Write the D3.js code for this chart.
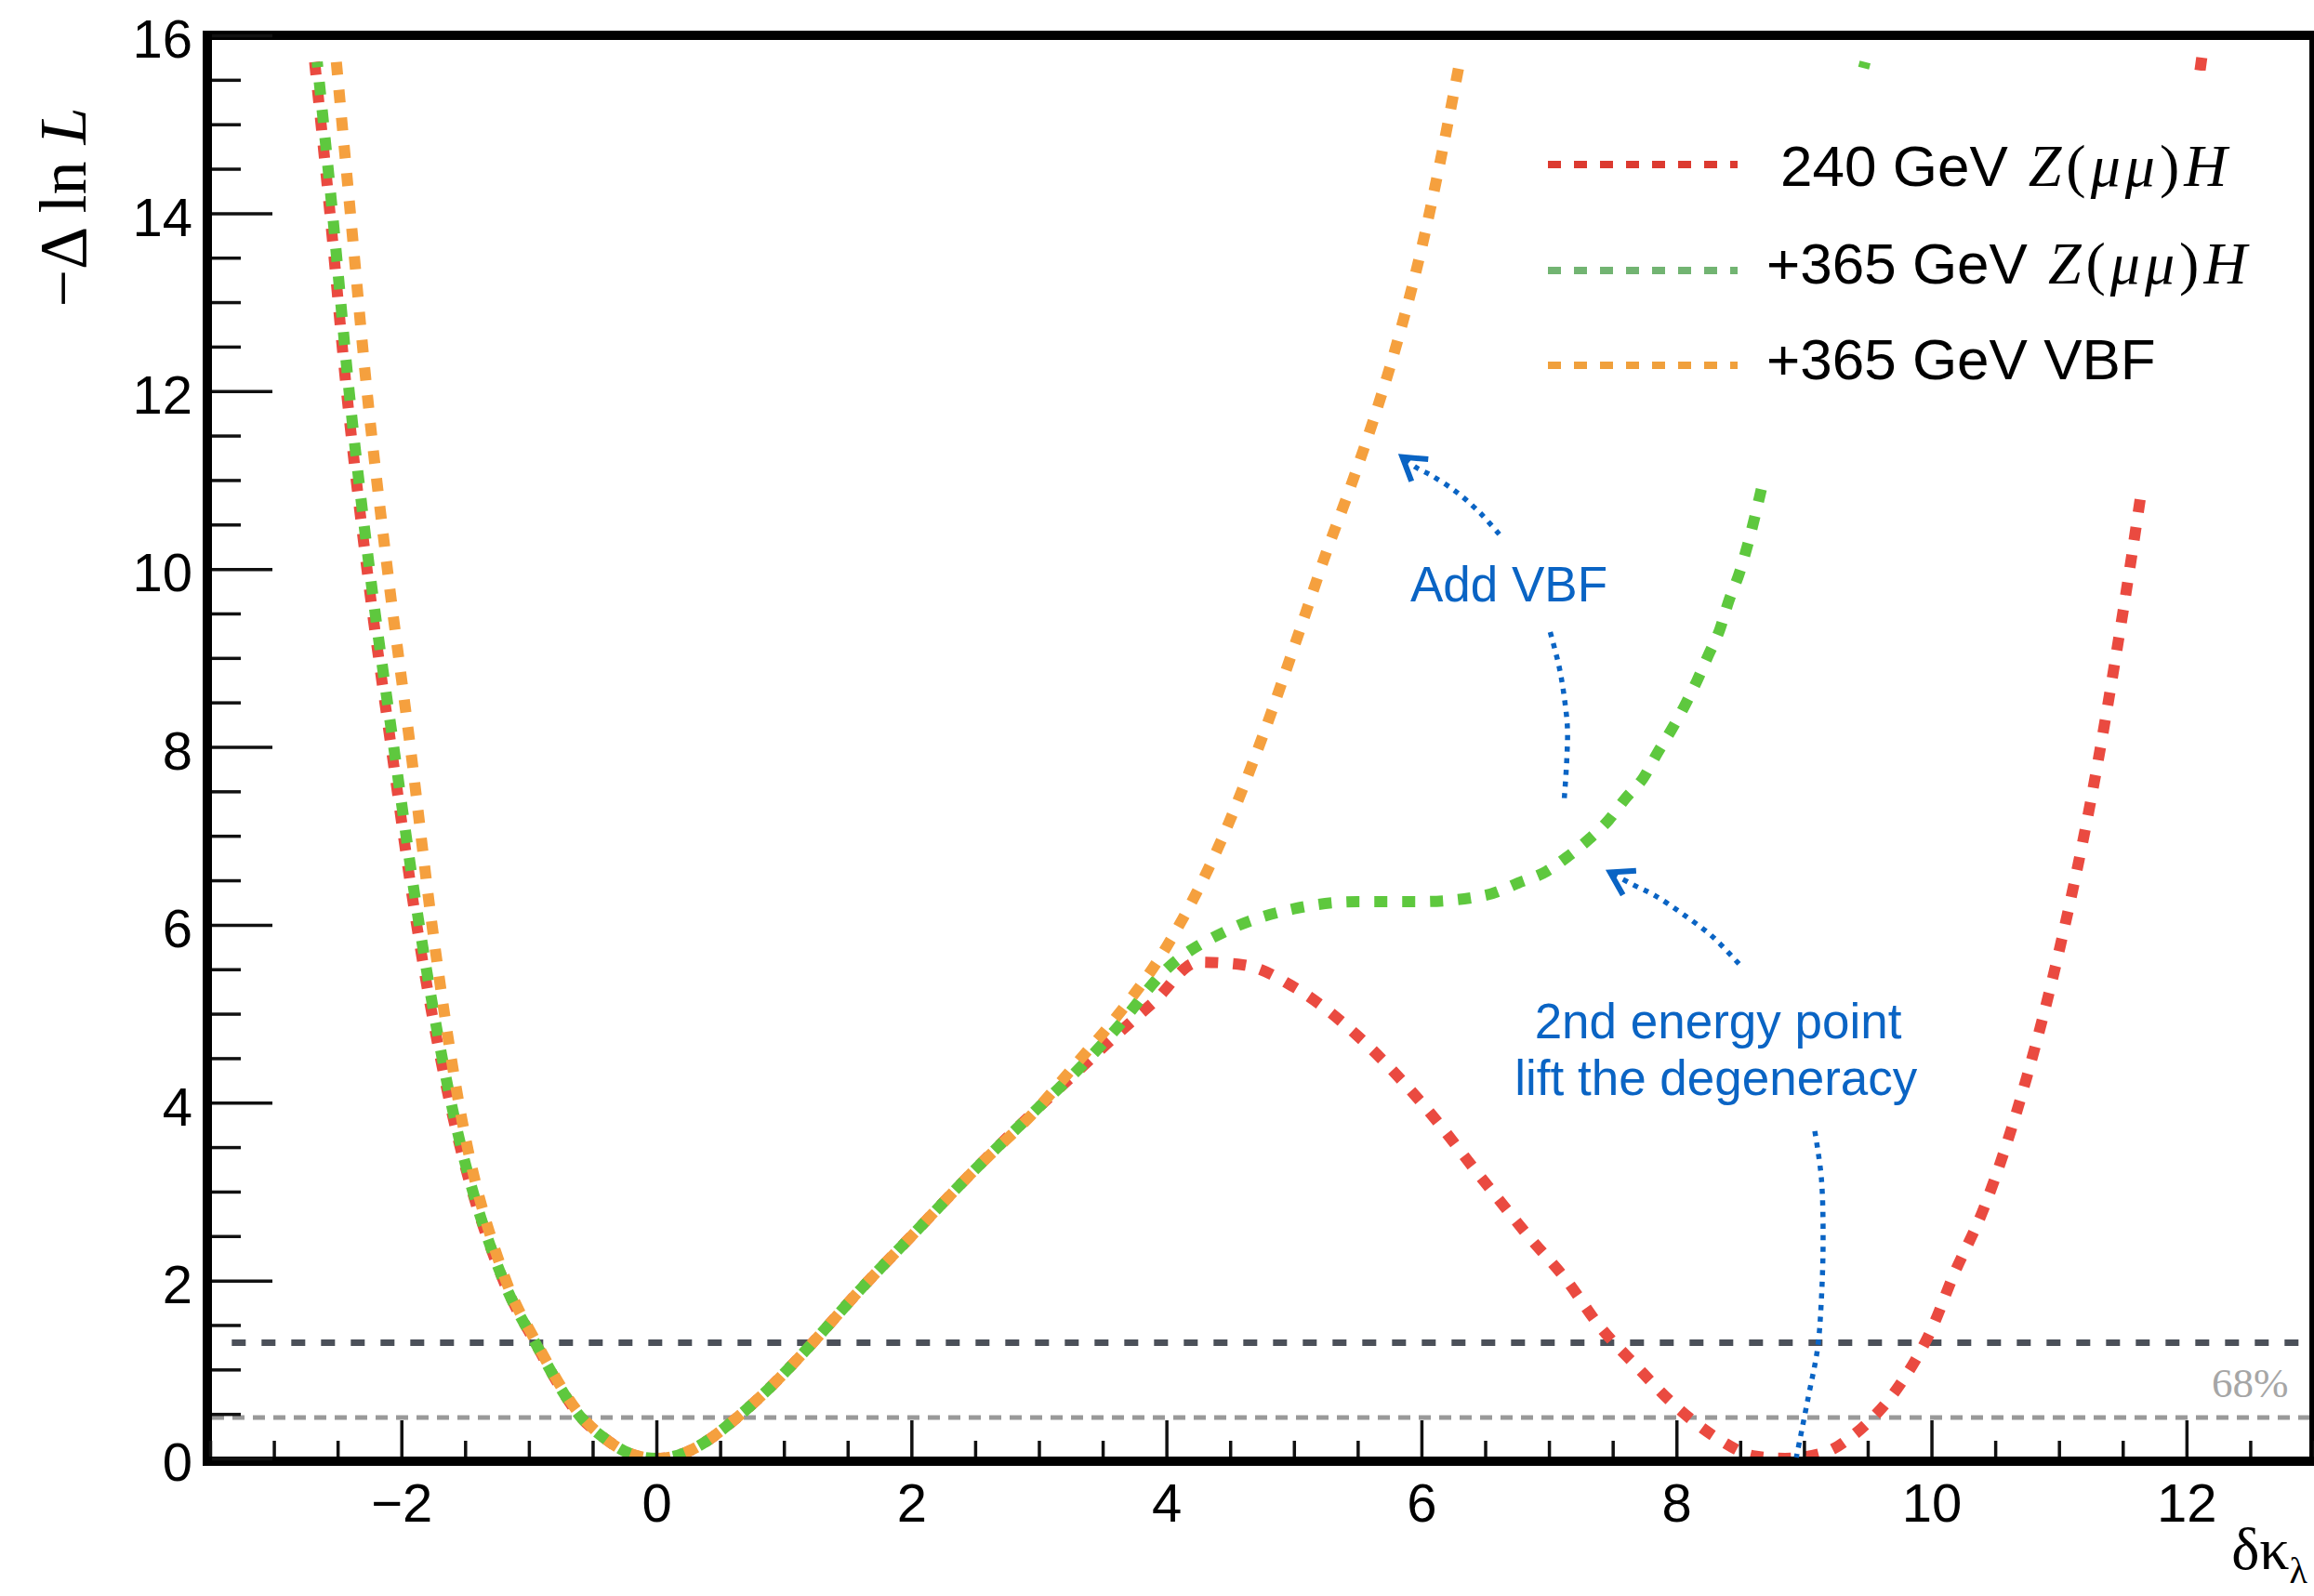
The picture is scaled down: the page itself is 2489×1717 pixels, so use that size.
<!DOCTYPE html>
<html>
<head>
<meta charset="utf-8">
<script src="https://cdn.jsdelivr.net/npm/d3@7"></script>
<style>
  body { margin: 0; background: #fff; }
  svg { display: block; }
</style>
</head>
<body>
<div class="chart"></div>
<script>
// values: [delta kappa_lambda, -Delta ln L]
var red_240 = [[-2.68,15.7],[-2.56,14],[-2.43,12],[-2.27,10],[-2.08,8],[-1.88,6],[-1.62,4],[-1.2,2],[-0.95,1.3],
  [-0.59,0.46],[-0.4,0.22],[-0.2,0.05],[0,0],[0.2,0.05],[0.4,0.2],[0.6,0.42],[0.85,0.74],[1.2,1.26],[1.6,1.9],
  [2.0,2.5],[2.5,3.25],[3.0,3.95],[3.3,4.35],[3.6,4.75],[3.9,5.13],[4.25,5.58],[4.6,5.55],[5.0,5.3],[5.5,4.75],
  [6.0,4.0],[6.5,3.1],[6.85,2.48],[7.14,2.0],[7.39,1.5],[7.69,1.03],[8.0,0.58],[8.35,0.2],[8.6,0.03],[8.85,0],
  [9.17,0.07],[9.35,0.22],[9.52,0.43],[9.66,0.65],[9.79,0.91],[9.9,1.17],[10.0,1.45],[10.17,2.05],[10.41,2.81],
  [10.75,4.3],[11.0,5.7],[11.25,7.4],[11.5,9.5],[11.75,11.9],[12.0,14.5],[12.12,15.75]];

var green_365 = [[-2.66,15.7],[-2.54,14],[-2.41,12],[-2.25,10],[-2.06,8],[-1.86,6],[-1.61,4],[-1.2,2],[-0.95,1.3],
  [-0.59,0.46],[-0.4,0.22],[-0.2,0.05],[0,0],[0.2,0.05],[0.4,0.2],[0.6,0.42],[0.85,0.74],[1.2,1.26],[1.6,1.9],
  [2.0,2.5],[2.5,3.25],[3.0,3.95],[3.3,4.36],[3.6,4.82],[4.0,5.5],[4.5,5.95],[5.0,6.18],[5.5,6.26],[6.0,6.26],
  [6.5,6.33],[6.76,6.47],[6.98,6.6],[7.15,6.77],[7.32,6.97],[7.47,7.18],[7.6,7.42],[7.74,7.65],[7.85,7.93],
  [7.96,8.19],[8.06,8.45],[8.16,8.74],[8.25,9.03],[8.34,9.32],[8.41,9.64],[8.49,9.94],[8.56,10.28],[8.65,10.8],
  [8.75,11.45],[9.0,13.0],[9.25,14.45],[9.48,15.7]];

var orange_vbf = [[-2.51,15.7],[-2.4,14],[-2.27,12],[-2.11,10],[-1.93,8],[-1.76,6],[-1.55,4],[-1.18,2],[-0.94,1.3],
  [-0.58,0.46],[-0.4,0.22],[-0.2,0.05],[0,0],[0.2,0.05],[0.4,0.2],[0.6,0.42],[0.85,0.74],[1.2,1.26],[1.6,1.9],
  [2.0,2.5],[2.5,3.25],[3.0,3.95],[3.3,4.45],[3.6,4.95],[4.0,5.75],[4.4,6.85],[4.75,8.1],[5.06,9.37],[5.26,10.21],
  [5.41,10.79],[5.62,11.66],[5.8,12.5],[6.0,13.6],[6.15,14.6],[6.3,15.7]];

var cl_levels = [1.3, 0.46];
var x_ticks = [-2, 0, 2, 4, 6, 8, 10, 12];
var y_ticks = [0, 2, 4, 6, 8, 10, 12, 14, 16];
var legend_text = ["240 GeV", "+365 GeV", "+365 GeV VBF"];
var legend_math = [true, true, false];

// annotation paths, in data units
var arrow_vbf = [[6.61,10.39],[6.46,10.63],[6.28,10.86],[6.08,11.05],[5.96,11.14],[5.85,11.26]];
var line_vbf = [[7.01,9.29],[7.08,8.90],[7.12,8.56],[7.145,8.21],[7.14,7.86],[7.12,7.41]];
var arrow_2nd = [[8.49,5.56],[8.28,5.87],[8.05,6.12],[7.83,6.33],[7.66,6.45],[7.48,6.59]];
var line_2nd = [[9.085,3.68],[9.136,3.16],[9.15,2.47],[9.136,1.77],[9.107,1.24],[9.034,0.69],[8.94,0.01]];

var W = 2489, H = 1717;
var blue = "#0a64c4";

var svg = d3.select(".chart").append("svg")
  .attr("width", W)
  .attr("height", H);

var x = d3.scaleLinear().domain([-3.5, 13]).range([226, 2489]);
var y = d3.scaleLinear().domain([0, 16]).range([1569, 38]);

svg.append("clipPath").attr("id", "plot")
  .append("rect").attr("x", 228).attr("y", 43).attr("width", 2256).attr("height", 1524);

// confidence level lines
svg.append("line")
  .attr("x1", x(-3.33)).attr("x2", x(12.88))
  .attr("y1", y(cl_levels[0])).attr("y2", y(cl_levels[0]))
  .attr("stroke", "#4b5059").attr("stroke-width", 7)
  .attr("stroke-dasharray", "15,17");
svg.append("line")
  .attr("x1", 228).attr("x2", W)
  .attr("y1", y(cl_levels[1])).attr("y2", y(cl_levels[1]))
  .attr("stroke", "#999").attr("stroke-width", 5)
  .attr("stroke-dasharray", "13,9");

// the curves
var line = d3.line()
  .x(function (d) { return x(d[0]); })
  .y(function (d) { return y(d[1]); })
  .curve(d3.curveMonotoneX);

var series = [
  { data: red_240, color: "#ea4a40", endDash: false },
  { data: green_365, color: "#5ec83e", endDash: true },
  { data: orange_vbf, color: "#f5a03e", endDash: false }
];

svg.append("g").attr("clip-path", "url(#plot)")
  .selectAll("path")
  .data(series)
  .enter().append("path")
  .attr("d", function (d) { return line(d.data); })
  .attr("fill", "none")
  .attr("stroke", function (d) { return d.color; })
  .attr("stroke-width", 12)
  .attr("stroke-dasharray", "14,16")
  .each(function (d) {
    // make the far end of the line finish on a dash
    if (d.endDash) {
      var L = this.getTotalLength();
      d3.select(this).attr("stroke-dashoffset", (7 - (L % 30) + 30) % 30);
    }
  });

// legend (its white box hides the curves behind it)
svg.append("rect")
  .attr("x", 1600).attr("y", 76).attr("width", 878).attr("height", 449)
  .attr("fill", "#fff");

var legend_colors = ["#dc3a30", "#72b472", "#f0a03c"];
var legend_y = [177, 291, 393];
var legend_base = [200, 305, 408];
var legend_x = [1915, 1900, 1900];

legend_text.forEach(function (t, i) {
  svg.append("line")
    .attr("x1", 1665).attr("x2", 1869)
    .attr("y1", legend_y[i]).attr("y2", legend_y[i])
    .attr("stroke", legend_colors[i]).attr("stroke-width", 8)
    .attr("stroke-dasharray", "14,14");
  var txt = svg.append("text")
    .attr("x", legend_x[i]).attr("y", legend_base[i])
    .style("font-family", "'Liberation Sans', Arial, sans-serif")
    .style("font-size", "62px")
    .text(t);
  if (legend_math[i]) {
    var m = txt.append("tspan")
      .attr("dx", 22)
      .style("font-family", "'Liberation Serif', 'Times New Roman', serif")
      .style("font-size", "64px")
      .style("letter-spacing", "5px");
    m.append("tspan").style("font-style", "italic").text("Z");
    m.append("tspan").text("(");
    m.append("tspan").style("font-style", "italic").text("μμ");
    m.append("tspan").text(")");
    m.append("tspan").style("font-style", "italic").text("H");
  }
});

// frame
svg.append("rect")
  .attr("x", 223).attr("y", 38).attr("width", 2266).attr("height", 1534)
  .attr("fill", "none").attr("stroke", "#000").attr("stroke-width", 10);

// axes
var y_minor = d3.range(0.5, 16, 0.5).filter(function (v) { return v % 2 != 0; });
var x_minor = d3.range(-3.5, 13.01, 0.5).filter(function (v) { return v % 2 != 0; });

var yAxis = svg.append("g").attr("transform", "translate(228,0)")
  .call(d3.axisLeft(y).tickValues(y_ticks).tickSize(-65).tickPadding(21).tickFormat(d3.format("d")));
var yMinor = svg.append("g").attr("transform", "translate(228,0)")
  .call(d3.axisLeft(y).tickValues(y_minor).tickSize(-31).tickFormat(""));
var xAxis = svg.append("g").attr("transform", "translate(0,1567)")
  .call(d3.axisBottom(x).tickValues(x_ticks).tickSize(-39).tickPadding(29).tickFormat(d3.format("d")));
var xMinor = svg.append("g").attr("transform", "translate(0,1567)")
  .call(d3.axisBottom(x).tickValues(x_minor).tickSize(-17).tickFormat(""));

[yAxis, yMinor, xAxis, xMinor].forEach(function (g) {
  g.select(".domain").remove();
  g.selectAll(".tick line").attr("stroke", "#111").attr("stroke-width", 3.5);
  g.selectAll(".tick text")
    .attr("fill", "#000")
    .style("font-family", "'Liberation Sans', Arial, sans-serif")
    .style("font-size", "58px");
});
yAxis.selectAll(".tick text").attr("dy", "0.41em");

// axis titles
var yt = svg.append("text")
  .attr("transform", "translate(92,223) rotate(-90)")
  .attr("text-anchor", "middle")
  .style("font-family", "'Liberation Serif', 'Times New Roman', serif")
  .style("font-size", "72px");
yt.append("tspan").text("−Δ ln ");
yt.append("tspan").style("font-style", "italic").text("L");

var xt = svg.append("text")
  .attr("x", 2482).attr("y", 1688)
  .attr("text-anchor", "end")
  .style("font-family", "'Liberation Serif', 'Times New Roman', serif")
  .style("font-size", "64px");
xt.append("tspan").text("δκ");
xt.append("tspan").attr("dy", 15).style("font-size", "40px").text("λ");

svg.append("text")
  .attr("x", x(12.8)).attr("y", y(0.69))
  .attr("text-anchor", "end")
  .attr("fill", "#a6a6a6")
  .style("font-family", "'Liberation Serif', 'Times New Roman', serif")
  .style("font-size", "45px")
  .text("68%");

// annotations
var aline = d3.line()
  .x(function (d) { return x(d[0]); })
  .y(function (d) { return y(d[1]); })
  .curve(d3.curveCatmullRom);

function dotted(pts, head) {
  svg.append("path")
    .attr("d", aline(pts))
    .attr("fill", "none")
    .attr("stroke", blue)
    .attr("stroke-width", 5.5)
    .attr("stroke-dasharray", "5.5,7");
  if (head) {
    var a = pts[pts.length - 2], b = pts[pts.length - 1];
    var tx = x(b[0]), ty = y(b[1]);
    var ang = Math.atan2(y(a[1]) - ty, x(a[0]) - tx);
    var len = 28, spread = 0.56;
    svg.append("path")
      .attr("d", "M" + (tx + len * Math.cos(ang - spread)) + "," + (ty + len * Math.sin(ang - spread)) +
        "L" + tx + "," + ty +
        "L" + (tx + len * Math.cos(ang + spread)) + "," + (ty + len * Math.sin(ang + spread)))
      .attr("fill", "none")
      .attr("stroke", blue)
      .attr("stroke-width", 6);
  }
}
dotted(arrow_vbf, true);
dotted(line_vbf, false);
dotted(arrow_2nd, true);
dotted(line_2nd, false);

var note = svg.append("g")
  .attr("fill", blue)
  .attr("text-anchor", "middle")
  .style("font-family", "'Liberation Sans', Arial, sans-serif")
  .style("font-size", "53px");
note.append("text").attr("x", x(6.686)).attr("y", y(9.635)).text("Add VBF");
note.append("text").attr("x", x(8.327)).attr("y", y(4.72)).text("2nd energy point");
note.append("text").attr("x", x(8.31)).attr("y", y(4.09)).text("lift the degeneracy");
</script>
</body>
</html>
